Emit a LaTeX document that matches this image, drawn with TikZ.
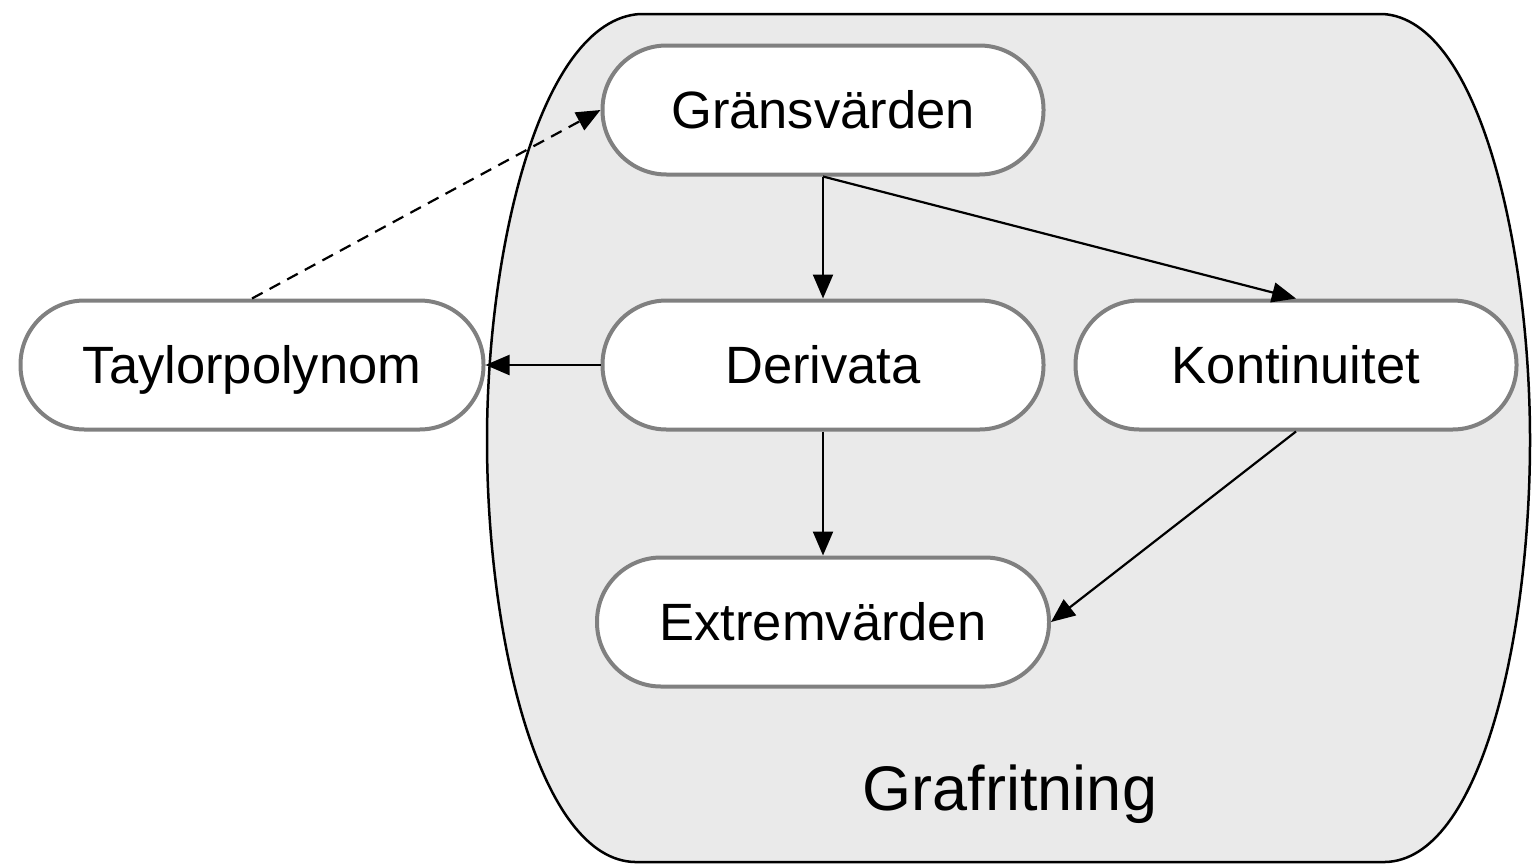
\documentclass[tikz,border=0pt]{standalone}
\usepackage{fontspec}
\setmainfont{Liberation Sans}
\usetikzlibrary{arrows.meta}
\definecolor{regionfill}{HTML}{EAEAEA}
\definecolor{pillborder}{HTML}{808080}
\begin{document}
\begin{tikzpicture}[x=1pt,y=-1pt,
  pill/.style={draw=pillborder, line width=4pt, fill=white, rounded corners=64pt,
    minimum height=129pt, text height=37pt, text depth=0pt, inner sep=0pt,
    font=\fontsize{52.5}{60}\selectfont},
  conn/.style={line width=2.2pt, -{Triangle[length=24pt,width=20pt]}}]
\useasboundingbox (0,0) rectangle (1533,865);
% region
\draw[fill=regionfill, line width=2.5pt]
  (640,14) -- (1383,14) .. controls (1480,20) and (1530,250) .. (1530,440)
  .. controls (1530,640) and (1480,860) .. (1385,862) -- (635,862)
  .. controls (540,860) and (487,640) .. (487,440)
  .. controls (487,250) and (540,20) .. (640,14) -- cycle;
\node[font=\fontsize{63}{70}\selectfont, text height=45pt, text depth=0pt, inner sep=0pt] (lab) at (1010,788) {Grafritning};
% nodes
\node[pill, minimum width=441pt] (g) at (823,110) {Gränsvärden};
\node[pill, minimum width=441pt] (d) at (823,365) {Derivata};
\node[pill, minimum width=441pt] (k) at (1296,365) {Kontinuitet};
\node[pill, minimum width=463pt] (t) at (252,365) {Taylorpolynom};
\node[pill, minimum width=452pt] (e) at (823,622) {Extremvärden};
% connectors
\draw[conn] (g.south) -- (d.north);
\draw[conn] (g.south) -- (k.north);
\draw[conn] (d.west) -- (t.east);
\draw[conn] (d.south) -- (e.north);
\draw[conn] (k.south) -- (e.east);
\draw[conn, dash pattern=on 12pt off 8pt] (t.north) -- (g.west);
\end{tikzpicture}
\end{document}
